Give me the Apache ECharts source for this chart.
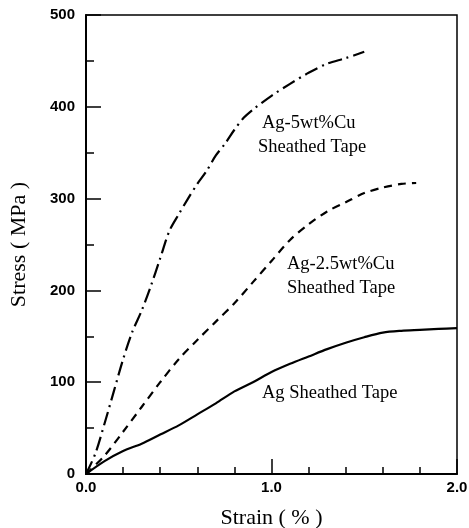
<!DOCTYPE html>
<html>
<head>
<meta charset="utf-8">
<script src="https://cdn.jsdelivr.net/npm/echarts@6/dist/echarts.min.js"></script>
<style>html,body{margin:0;padding:0;background:#fff;}#c{width:469px;height:528px;}</style>
</head>
<body>
<div id="c"></div>
<script>
// Strain (%) / Stress (MPa)
const agStrain = [0, 0.1, 0.2, 0.3, 0.4, 0.5, 0.6, 0.7, 0.8, 0.9, 1.0, 1.1, 1.2, 1.3, 1.4, 1.5, 1.6, 1.7, 1.8, 1.9, 2.0];
const agStress = [0, 14, 25, 33, 43, 53, 65, 77, 90, 100, 111, 120, 128, 136, 143, 149, 154, 156, 157, 158, 159];

const cu25Strain = [0, 0.1, 0.2, 0.3, 0.4, 0.5, 0.6, 0.7, 0.8, 0.9, 1.0, 1.1, 1.2, 1.3, 1.4, 1.5, 1.6, 1.7, 1.78];
const cu25Stress = [0, 20, 46, 73, 100, 125, 146, 166, 186, 209, 232, 255, 272, 286, 296, 306, 312, 316, 317];

const cu5Strain = [0, 0.05, 0.1, 0.15, 0.2, 0.25, 0.3, 0.35, 0.4, 0.45, 0.5, 0.55, 0.6, 0.65, 0.7, 0.75, 0.8, 0.85, 0.9, 1.0, 1.1, 1.2, 1.3, 1.4, 1.5];
const cu5Stress = [0, 22, 55, 90, 125, 155, 178, 205, 235, 265, 283, 300, 316, 330, 347, 360, 375, 388, 397, 412, 425, 437, 447, 453, 460];

const xTicks = ['0.0', '1.0', '2.0'];
const yTicks = ['0', '100', '200', '300', '400', '500'];

const labels = [
  {t: 'Ag-5wt%Cu', x: 262, y: 125},
  {t: 'Sheathed Tape', x: 258, y: 149},
  {t: 'Ag-2.5wt%Cu', x: 287, y: 266},
  {t: 'Sheathed Tape', x: 287, y: 290},
  {t: 'Ag Sheathed Tape', x: 262, y: 395}
];

function zip(a, b) { return a.map((v, i) => [v, b[i]]); }

const chart = echarts.init(document.getElementById('c'));
const tickFont = {color: '#000', fontFamily: 'Liberation Sans, Arial, sans-serif', fontWeight: 'bold', fontSize: 15};
const nameFont = {color: '#000', fontFamily: 'Liberation Serif, Times New Roman, serif', fontSize: 22};
chart.setOption({
  animation: false,
  backgroundColor: '#fff',
  grid: {left: 86, right: 12, top: 15, bottom: 54, show: true, borderColor: '#000', borderWidth: 1.5,
         backgroundColor: 'transparent', outerBoundsMode: 'none', containLabel: false},
  xAxis: {
    type: 'value', min: 0, max: 2, interval: 1,
    name: 'Strain ( % )', nameLocation: 'middle', nameGap: 33,
    nameTextStyle: nameFont,
    axisLine: {lineStyle: {color: '#000', width: 2}},
    axisTick: {inside: true, length: 15, lineStyle: {color: '#000', width: 1.5}},
    minorTick: {show: true, splitNumber: 5, length: 7, lineStyle: {color: '#000', width: 1.5}},
    splitLine: {show: false},
    axisLabel: Object.assign({margin: 6, formatter: v => xTicks[Math.round(v)]}, tickFont)
  },
  yAxis: {
    type: 'value', min: 0, max: 500, interval: 100,
    name: 'Stress ( MPa )', nameLocation: 'middle', nameGap: 56,
    nameTextStyle: nameFont,
    axisLine: {lineStyle: {color: '#000', width: 2}},
    axisTick: {inside: true, length: 15, lineStyle: {color: '#000', width: 1.5}},
    minorTick: {show: true, splitNumber: 2, length: 8, lineStyle: {color: '#000', width: 1.5}},
    splitLine: {show: false},
    axisLabel: Object.assign({margin: 11, formatter: v => yTicks[Math.round(v / 100)]}, tickFont)
  },
  series: [
    {type: 'line', data: zip(agStrain, agStress), smooth: 0.3, symbol: 'none',
     lineStyle: {color: '#000', width: 2.2, type: 'solid'}},
    {type: 'line', data: zip(cu25Strain, cu25Stress), smooth: 0.3, symbol: 'none',
     lineStyle: {color: '#000', width: 2.2, type: [8, 6]}},
    {type: 'line', data: zip(cu5Strain, cu5Stress), smooth: 0.3, symbol: 'none',
     lineStyle: {color: '#000', width: 2.2, type: [14, 5, 2, 5]}}
  ],
  graphic: labels.map(l => ({
    type: 'text', left: l.x, top: l.y - 11,
    style: {text: l.t, fill: '#000', font: '18.5px "Liberation Serif", "Times New Roman", serif', textVerticalAlign: 'top'}
  }))
});
</script>
</body>
</html>
